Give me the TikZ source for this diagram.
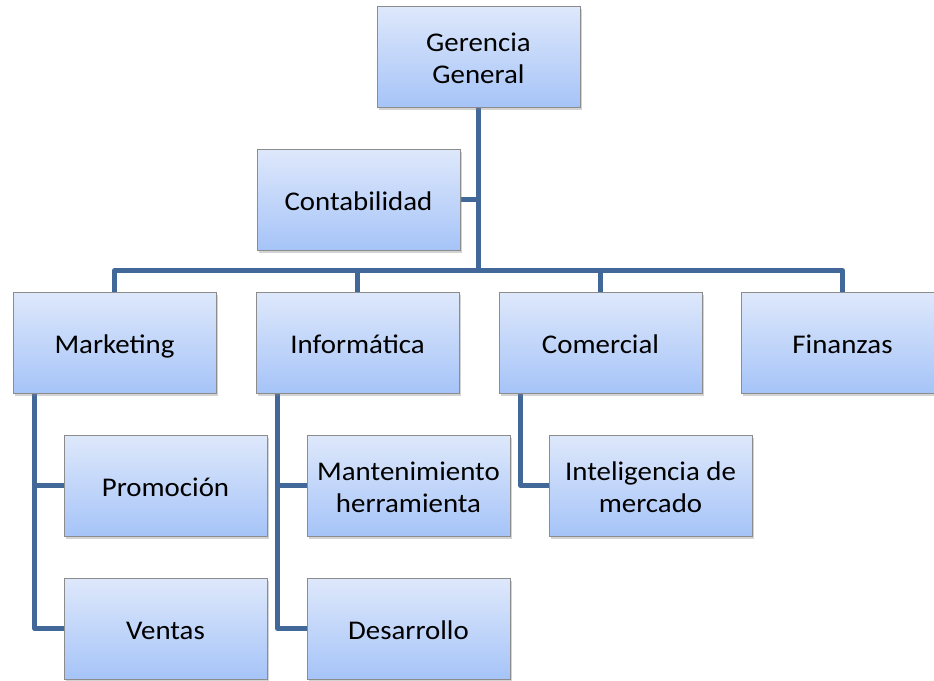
\documentclass[tikz,border=0pt]{standalone}
\usepackage{fontspec}
\setmainfont{Carlito}[FakeStretch=1.07]
\usepackage{tikz}
\usetikzlibrary{shadows,backgrounds}

\definecolor{boxtop}{RGB}{222,232,251}
\definecolor{boxbot}{RGB}{166,196,248}
\definecolor{boxline}{RGB}{140,140,140}
\definecolor{linkcol}{RGB}{66,103,153}

\newcommand{\topstrut}{\rule{0pt}{28pt}}
\newcommand{\tallstrut}{\rule{0pt}{60pt}}
\newcommand{\botstrut}{\rule[-6pt]{0pt}{6pt}}

\begin{document}
\begin{tikzpicture}[x=1pt,y=1pt,node distance=143pt]
    \tikzstyle{every node}=[font=\fontsize{27}{32}\selectfont];
    \tikzstyle{box}=[draw=boxline,line width=0.8pt,top color=boxtop,bottom color=boxbot,
        minimum width=203pt,minimum height=101pt,align=center,inner sep=2pt,
        execute at begin node=\topstrut,execute at end node=\botstrut,
        drop shadow={shadow xshift=1.5pt,shadow yshift=-2.5pt,opacity=0.35}];
    \tikzstyle{twoline}=[execute at begin node=\tallstrut];
    \tikzstyle{link}=[draw=linkcol,line width=4.5pt,line join=round];

    \useasboundingbox (0,0) rectangle (934,-680);

    \node[box,twoline] (ger) at (478.5,-56.5) {Gerencia\\General};
    \node[box] (cont) [below of=ger,xshift=-120pt] {Contabilidad};

    \node[box] (inf) [below of=cont,xshift=-1pt] {Inform\'atica};
    \node[box] (mkt) [left of=inf,node distance=243pt] {Marketing};
    \node[box] (com) [right of=inf,node distance=243pt] {Comercial};
    \node[box] (fin) [right of=com,node distance=242pt] {Finanzas};

    \node[box] (prom) [below of=mkt,xshift=51pt] {Promoci\'on};
    \node[box] (vent) [below of=prom] {Ventas};
    \node[box,twoline] (mant) [below of=inf,xshift=51pt] {Mantenimiento\\herramienta};
    \node[box] (des) [below of=mant] {Desarrollo};
    \node[box,twoline] (intel) [below of=com,xshift=50pt] {Inteligencia de\\mercado};

    % connectors behind the boxes
    \begin{pgfonlayer}{background}
    \draw[link] (cont.east) -- (cont.east -| ger.south);
    \draw[link] (ger.south) |- ([yshift=21pt]mkt.north) -- (mkt.north);
    \draw[link] (ger.south) |- ([yshift=21pt]inf.north) -- (inf.north);
    \draw[link] (ger.south) |- ([yshift=21pt]com.north) -- (com.north);
    \draw[link] (ger.south) |- ([yshift=21pt]fin.north) -- (fin.north);

    \draw[link] ([xshift=22pt]mkt.south west) |- (prom.west);
    \draw[link] ([xshift=22pt]mkt.south west) |- (vent.west);
    \draw[link] ([xshift=22pt]inf.south west) |- (mant.west);
    \draw[link] ([xshift=22pt]inf.south west) |- (des.west);
    \draw[link] ([xshift=22pt]com.south west) |- (intel.west);
    \end{pgfonlayer}
\end{tikzpicture}
\end{document}
